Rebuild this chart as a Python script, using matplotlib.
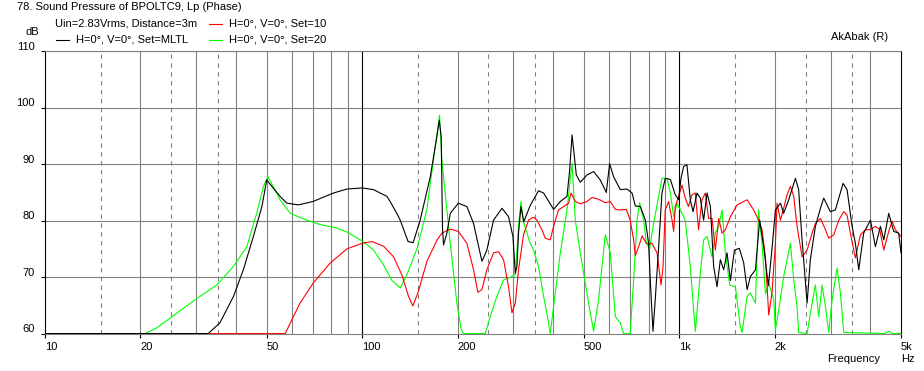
import numpy as np
import matplotlib
matplotlib.use("Agg")
from matplotlib import pyplot as plt

plt.rcParams['font.family'] = ['Liberation Sans', 'DejaVu Sans']

# (Hz, dB)
mltl = [(10, 60), (32.7, 60), (35.6, 61.9), (39.3, 66.6), (42.2, 71.3), (45.4, 77.2), (48.3, 82.5),
        (50.0, 87.2), (55.1, 84.3), (57.9, 83.1), (63.0, 82.8), (70.0, 83.4), (81.2, 84.9), (89.5, 85.6),
        (100, 85.8), (108.6, 85.5), (114, 84.9), (119.7, 84.3), (122.5, 83.4), (128.6, 81.3), (131.8, 80.1),
        (139.6, 76.3), (144.8, 76.1), (152.4, 80.1), (164, 87.8), (172, 94.9), (175, 97.8), (177.5, 94.9),
        (179.2, 78.7), (180.5, 75.7), (185, 77.8), (189.6, 81.3), (201, 83.1), (213.9, 82.5), (224.5, 79.5),
        (238.6, 72.8), (247.3, 74.8), (259.6, 80.1), (276, 82.2), (289.5, 80.7), (298.8, 77.2), (304, 70.7),
        (307.6, 71.9), (311.2, 77.8), (316.7, 82.5), (323.2, 79.8), (338.8, 82.7), (359.8, 85.3),
        (373.3, 84.9), (401.4, 82.0), (421.5, 83.4), (442.4, 84.3), (450.8, 88.8), (459, 95.2), (466.5, 91.4),
        (473.4, 88.1), (487.4, 86.8), (511.5, 88.1), (536.8, 88.7), (563.5, 87.2), (588.6, 85.0),
        (602.9, 90.1), (620.4, 87.8), (651.4, 85.5), (683.9, 85.6), (709.5, 84.9), (726.6, 82.6),
        (753.6, 82.5), (781.5, 80.1), (800, 76.0), (810, 69.4), (826, 60.4), (839.7, 66.0), (860.7, 75.4),
        (881.6, 84.9), (903, 87.5), (937, 87.3), (971, 84.6), (995, 83.7), (1012, 87.5), (1032, 89.6),
        (1057, 89.9), (1083, 83.7), (1105, 81.6), (1137, 84.9), (1165, 84.0), (1193, 80.1), (1223, 84.9),
        (1253, 82.5), (1283, 71.9), (1315, 68.3), (1347, 73.1), (1380, 71.3), (1414, 74.3), (1449, 69.4),
        (1492, 74.8), (1546, 75.1), (1596, 72.5), (1636, 67.8), (1675, 70.1), (1738, 71.3), (1792, 80.1),
        (1845, 75.4), (1909, 68.5), (1960, 75.0), (2009, 81.9), (2084, 83.1), (2133, 81.3), (2213, 83.7),
        (2323, 87.5), (2378, 85.5), (2438, 76.6), (2529, 65.4), (2589, 73.1), (2686, 79.0), (2786, 82.2),
        (2853, 84.0), (2993, 81.6), (3105, 81.9), (3283, 86.6), (3380, 85.5), (3506, 79.0), (3590, 76.0),
        (3680, 71.3), (3813, 77.8), (4006, 80.1), (4152, 75.4), (4305, 79.0), (4413, 76.6), (4574, 81.3),
        (4742, 78.1), (4917, 77.8), (5000, 74.3)]

set10 = [(10, 60), (57.2, 60), (60.7, 63.0), (63.7, 65.4), (70.2, 69.0), (79.3, 72.5), (89.5, 75.0),
         (100, 76.0), (107.3, 76.3), (116.7, 75.5), (125.6, 73.6), (133.4, 70.4), (140, 66.6), (144.5, 64.9),
         (150.5, 67.5), (160, 72.8), (172, 76.5), (178.4, 77.8), (189.6, 78.5), (201, 78.1), (213.9, 76.0),
         (224.5, 71.3), (231.7, 67.3), (238.6, 67.8), (247.3, 71.3), (259.6, 74.3), (269.2, 74.5),
         (279.1, 73.1), (289.5, 68.3), (296.7, 63.7), (304, 65.4), (311.2, 71.3), (322.7, 77.5),
         (334.7, 80.1), (347, 80.6), (355.6, 80.1), (368.9, 78.4), (377.7, 76.9), (391.7, 76.6),
         (401.4, 79.0), (416, 81.9), (431.5, 82.5), (447.6, 83.1), (455.5, 84.9), (469.9, 83.4),
         (487.4, 83.0), (511.5, 83.4), (530.6, 84.1), (556.3, 83.8), (584.2, 83.2), (605.9, 83.4),
         (628.5, 82.0), (651.4, 81.9), (680.7, 82.0), (700, 80.1), (717.8, 76.6), (726.6, 73.8),
         (744.5, 75.4), (763, 77.3), (787, 76.0), (805.6, 75.9), (820, 76.0), (850.6, 74.3), (875.7, 68.6),
         (888.5, 71.9), (903, 81.9), (925.3, 83.4), (948.5, 80.1), (959.8, 78.1), (971, 82.5), (995, 84.3),
         (1020, 86.3), (1044, 84.0), (1069, 82.5), (1096, 84.6), (1123, 84.9), (1150, 78.4), (1179, 83.7),
         (1208, 84.9), (1237, 80.4), (1268, 80.4), (1299, 74.8), (1331, 80.4), (1364, 77.8), (1397, 78.4),
         (1449, 80.7), (1521, 82.8), (1636, 83.7), (1716, 81.9), (1778, 80.1), (1823, 78.4), (1868, 73.6),
         (1914, 63.3), (1960, 67.2), (2009, 76.0), (2033, 83.1), (2084, 80.1), (2133, 82.2), (2187, 84.6),
         (2240, 86.1), (2295, 84.3), (2351, 79.0), (2438, 73.6), (2529, 74.8), (2622, 77.8), (2686, 79.5),
         (2786, 80.4), (2889, 78.4), (2959, 76.9), (3069, 77.5), (3183, 80.1), (3300, 81.6), (3380, 81.0),
         (3461, 77.8), (3590, 73.4), (3724, 77.5), (3862, 78.4), (4006, 78.4), (4152, 79.0), (4285, 78.4),
         (4413, 74.8), (4574, 78.1), (4690, 79.9), (4800, 78.4), (5000, 77.2)]

set20 = [(10, 60), (20.7, 60), (22.5, 61.0), (26.0, 63.6), (30.1, 66.2), (34.8, 68.6), (39.3, 71.9),
         (43.3, 75.4), (46.5, 81.3), (48.8, 86.0), (50.4, 87.8), (52.5, 86.0), (55.1, 83.7), (59.3, 81.3),
         (66.9, 80.1), (73.7, 79.3), (83.2, 78.7), (89.5, 78.0), (100, 76.4), (108.6, 74.8), (116.7, 72.2),
         (124.1, 69.4), (131.8, 68.1), (138.3, 70.4), (148.8, 75.0), (160, 82.0), (170, 93.1), (175.4, 98.7),
         (178.4, 90.7), (182.7, 84.9), (189.6, 76.0), (198.9, 65.4), (205.3, 60.7), (208.8, 60), (244.3, 60),
         (253.4, 63.0), (266, 66.6), (279.1, 69.5), (296.7, 70.1), (304, 70.5), (311.2, 79.0), (316.7, 83.4),
         (322.7, 79.8), (337.2, 76.3), (347, 74.8), (359.8, 71.9), (373.3, 66.6), (387.1, 61.9), (391.7, 60),
         (401.4, 64.8), (421.5, 74.3), (442.4, 81.9), (459, 90.2), (469.9, 80.1), (487.4, 74.3), (505.1, 69.0),
         (524.1, 63.6), (536.8, 60.4), (556.3, 66.0), (584.2, 77.5), (605.9, 74.3), (628.5, 63.0),
         (651.4, 61.9), (667.2, 60), (700, 60), (717.8, 69.5), (735.7, 80.1), (749.7, 83.2), (771.6, 80.1),
         (787, 76.0), (805.6, 75.0), (829.6, 79.5), (860.7, 84.3), (881.6, 87.5), (914.6, 87.5), (937, 84.9),
         (959.8, 80.7), (983.9, 83.1), (1007, 81.9), (1044, 80.1), (1083, 71.9), (1123, 60.4), (1165, 70.7),
         (1193, 76.6), (1223, 77.2), (1268, 73.6), (1299, 77.8), (1331, 79.0), (1364, 81.9), (1397, 74.3),
         (1441, 68.6), (1502, 68.3), (1557, 61.3), (1577, 60.2), (1636, 66.6), (1675, 67.2), (1738, 65.4),
         (1778, 81.9), (1823, 76.0), (1868, 67.0), (1914, 69.0), (1985, 66.0), (2009, 60.6), (2058, 64.2),
         (2133, 70.1), (2240, 76.0), (2295, 69.5), (2351, 64.8), (2378, 60.2), (2529, 60), (2589, 63.6),
         (2686, 68.6), (2751, 63.0), (2819, 68.6), (2889, 64.8), (2959, 60.2), (3033, 66.0), (3143, 71.6),
         (3221, 67.2), (3300, 60.2), (4450, 60), (4574, 60.4), (4700, 60), (5000, 60)]

x_ticks = [10, 20, 50, 100, 200, 500, 1000, 2000, 5000]
x_labels = ["10", "20", "50", "100", "200", "500", "1k", "2k", "5k"]
y_ticks = [60, 70, 80, 90, 100, 110]

W, H = 924, 371
fig = plt.figure(figsize=(W / 100, H / 100), dpi=100)
fig.patch.set_facecolor("white")
ax = fig.add_axes([45 / W, 1 - 333.6 / H, 856 / W, 282.3 / H])
ax.set_xscale("log")
ax.set_xlim(10, 5000)
ax.set_ylim(60, 110)

grey = "#808080"
lw = 0.8
# grid
for dec in [10, 100, 1000]:
    for m in range(2, 10):
        f = dec * m
        if f < 5000:
            ax.axvline(f, color=grey, lw=lw, zorder=1)
    for m in [1.5, 2.5, 3.5]:
        ax.axvline(dec * m, color=grey, lw=lw, ls=(0, (4, 4)), zorder=1)
for f in [100, 1000]:
    ax.axvline(f, color="black", lw=lw, zorder=1.5)
for v in y_ticks[1:]:
    ax.axhline(v, color=grey, lw=lw, zorder=1)

for spine in ["top", "bottom"]:
    ax.spines[spine].set_color(grey)
for spine in ["left", "right"]:
    ax.spines[spine].set_color("black")
for s in ax.spines.values():
    s.set_linewidth(lw)

for data, col in [(set20, "#00ff00"), (set10, "#ff0000"), (mltl, "black")]:
    a = np.array(data)
    ax.plot(a[:, 0], a[:, 1], color=col, lw=lw, zorder=3)

fs = 8
ax.set_xticks(x_ticks)
ax.set_xticklabels(x_labels, ha="left", fontsize=fs)
ax.xaxis.set_minor_locator(matplotlib.ticker.NullLocator())
ax.tick_params(axis="x", length=3, pad=3, color="black", width=lw)
ax.set_yticks(y_ticks)
ax.set_yticklabels([])
ax.tick_params(axis="y", length=3, color="black", width=lw)
ytr = ax.get_yaxis_transform()
for v in y_ticks:
    ax.text(-10 / 856, v + 0.25, str(v), transform=ytr, ha="right", va="baseline", fontsize=fs)

fig.text(17 / W, 1 - 7 / H, "78. Sound Pressure of BPOLTC9, Lp (Phase)", fontsize=fs, va="center")
fig.text(55 / W, 1 - 24 / H, "Uin=2.83Vrms, Distance=3m", fontsize=fs, va="center")
fig.text(26 / W, 1 - 32 / H, "dB", fontsize=fs, va="center")
fig.text(831 / W, 1 - 37 / H, "AkAbak (R)", fontsize=fs, va="center")
fig.text(827 / W, 1 - 359 / H, "Frequency", fontsize=fs, va="center")
fig.text(901 / W, 1 - 359 / H, "Hz", fontsize=fs, va="center")

legend = [(56, 40, "black", "H=0°, V=0°, Set=MLTL"),
          (209, 24, "#ff0000", "H=0°, V=0°, Set=10"),
          (209, 40, "#00ff00", "H=0°, V=0°, Set=20")]
for lx, ly, col, lab in legend:
    fig.add_artist(plt.Line2D([lx / W, (lx + 13) / W], [1 - ly / H, 1 - ly / H], color=col, lw=lw))
    fig.text((lx + 20) / W, 1 - ly / H, lab, fontsize=fs, va="center")

fig.savefig("out.png", dpi=100)
